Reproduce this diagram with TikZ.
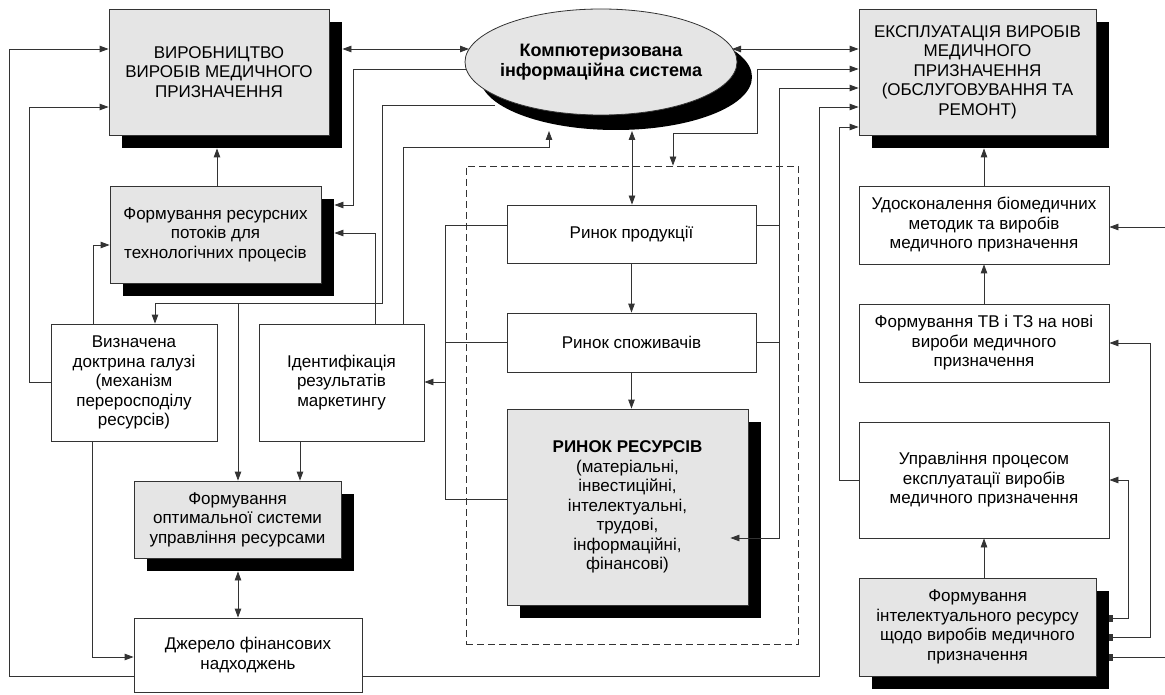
\documentclass[tikz,border=0pt]{standalone}
\usepackage{fontspec}
\setmainfont{Liberation Sans}
\usetikzlibrary{shapes.geometric}
\usetikzlibrary{shadows}
\usetikzlibrary{calc}
\usetikzlibrary{arrows.meta}

\begin{document}
\begin{tikzpicture}[x=1pt, y=-1pt,
    box/.style={draw=black!80, line width=0.8pt, fill=white, align=center, inner sep=2pt, font=\fontsize{17}{19.5}\selectfont},
    grbox/.style={box, fill=black!10, drop shadow={shadow xshift=#1, shadow yshift=-#1, fill=black, opacity=1}},
    grbox/.default=13pt,
    ln/.style={draw=black!80, line width=0.8pt},
    arr/.style={ln, -{Triangle[length=9pt,width=6.5pt]}},
    darr/.style={ln, {Triangle[length=9pt,width=6.5pt]}-{Triangle[length=9pt,width=6.5pt]}},
    tail/.style={ln, {Rectangle[length=3pt,width=7pt]}-{Triangle[length=9pt,width=6.5pt]}}]

    \useasboundingbox (0,0) rectangle (1165,695);

    \node[draw=black!80, line width=0.8pt, dash pattern=on 7pt off 4pt, minimum width=332pt, minimum height=478pt] (rynky) at (632,405) {};

    \node[grbox, minimum width=220pt, minimum height=126pt] (vyr) at (219,72) {ВИРОБНИЦТВО\\ВИРОБІВ МЕДИЧНОГО\\ПРИЗНАЧЕННЯ};
    \node[grbox=15pt, ellipse, inner xsep=-10pt, inner ysep=0pt, minimum width=272pt, minimum height=106pt, font=\bfseries\fontsize{18}{20}\selectfont] (ell) at (601,62) {Компютеризована\\інформаційна система};
    \node[grbox, minimum width=237pt, minimum height=126pt] (ekspl) at (977.5,72) {ЕКСПЛУАТАЦІЯ ВИРОБІВ\\МЕДИЧНОГО\\ПРИЗНАЧЕННЯ\\(ОБСЛУГОВУВАННЯ ТА\\РЕМОНТ)};

    \node[grbox, minimum width=211pt, minimum height=97pt] (potoky) at (215.5,234.5) {Формування ресурсних\\потоків для\\технологічних процесів};
    \node[box, minimum width=166pt, minimum height=117pt] (doktr) at (134,382.5) {Визначена\\доктрина галузі\\(механізм\\переросподілу\\ресурсів)};
    \node[box, minimum width=165pt, minimum height=117pt] (ident) at (341.5,382.5) {Ідентифікація\\результатів\\маркетингу};
    \node[grbox, minimum width=207pt, minimum height=77pt] (optim) at (237.5,519.5) {Формування\\оптимальної системи\\управління ресурсами};
    \node[box, minimum width=228pt, minimum height=74pt] (dzher) at (248,655) {Джерело фінансових\\надходжень};

    \node[box, minimum width=249pt, minimum height=58pt] (prod) at (631.5,234) {Ринок продукції};
    \node[box, minimum width=249pt, minimum height=59pt] (spoz) at (631.5,342.5) {Ринок споживачів};
    \node[grbox, minimum width=241pt, minimum height=196pt] (resurs) at (627.5,507) {\textbf{РИНОК РЕСУРСІВ}\\(матеріальні,\\інвестиційні,\\інтелектуальні,\\трудові,\\інформаційні,\\фінансові)};

    \node[box, minimum width=250pt, minimum height=78pt] (udosk) at (984,225) {Удосконалення біомедичних\\методик та виробів\\медичного призначення};
    \node[box, minimum width=250pt, minimum height=78pt] (tvtz) at (984,343) {Формування ТВ і ТЗ на нові\\вироби медичного\\призначення};
    \node[box, minimum width=250pt, minimum height=116pt] (uprav) at (984,480) {Управління процесом\\експлуатації виробів\\медичного призначення};
    \node[grbox, minimum width=237pt, minimum height=98pt] (intel) at (977.5,627) {Формування\\інтелектуального ресурсу\\щодо виробів медичного\\призначення};

    \draw[darr] ($(vyr.east)+(13,-23)$) -- ($(ell.center)+(-132,-13)$);
    \draw[darr] ($(ell.center)+(131,-13)$) -- (ekspl.west |- 0,49);
    \draw[arr] ($(ell.center)+(-135,7)$) -| (353,205) -- ($(potoky.east)+(13,-29.5)$);
    \draw[arr] ($(ell.center)+(-106,43)$) -| (382,303) -| (doktr.north -| 155,0);
    \draw[arr] (238,303) -- (optim.north -| 238,0);
    \draw[arr] (ident.north -| 403,0) |- (549,147) -- ($(ell.center)+(-52,69)$);
    \draw[arr] (ident.north -| 375,0) |- ($(potoky.east)+(13,-1.5)$);
    \draw[arr] (potoky.north -| 217,0) -- ($(vyr.south)+(-2,13)$);
    \draw[arr] (doktr.west) -| (29,107) -- (vyr.west |- 0,107);
    \draw[arr] (doktr.north -| 93,0) |- (potoky.west |- 0,245);
    \draw[arr] (doktr.south -| 92,0) |- (dzher.west |- 0,657);
    \draw[arr] (ident.south -| 300,0) -- (optim.north -| 300,0);
    \draw[darr] ($(optim.south)+(0.5,13)$) -- (dzher.north -| 238,0);
    \draw[arr] (dzher.west |- 0,676) -| (9,49) -- (vyr.west |- 0,49);
    \draw[arr] (dzher.east |- 0,676) -| (819,107) -- (ekspl.west |- 0,107);

    \draw[darr] ($(ell.center)+(31,69)$) -- (prod.north -| 632,0);
    \draw[arr] (prod) -- (spoz);
    \draw[arr] (spoz.south) -- (spoz.south |- resurs.north);
    \draw[ln] (prod.west |- 0,225) -| (445,499) -- (resurs.west |- 0,499);
    \draw[ln] (spoz.west) -- (445,342.5);
    \draw[arr] (445,382) -- (ident.east |- 0,382);
    \draw[arr] (prod.east |- 0,225) -| (779,88) -- (ekspl.west |- 0,88);
    \draw[ln] (spoz.east) -- (779,342.5);
    \draw[arr] (779,225) |- ($(resurs.east)+(-18,31)$);
    \draw[darr] (ekspl.west |- 0,69) -| (757,133) -| (rynky.north -| 673,0);

    \draw[arr] (uprav.west) -| (839,127) -- (ekspl.west |- 0,127);
    \draw[arr] (udosk.north) -- ($(ekspl.south)+(6.5,13)$);
    \draw[arr] (tvtz) -- (udosk);
    \draw[arr] (intel.north -| uprav.south) -- (uprav.south);
    \draw[tail] ($(intel.east)+(13,-9)$) -| (1128,480) -- (uprav.east);
    \draw[tail] ($(intel.east)+(13,10)$) -| (1150,343) -- (tvtz.east);
    \draw[tail] ($(intel.east)+(13,30)$) -| (1172,227) -- (udosk.east |- 0,227);

\end{tikzpicture}
\end{document}
